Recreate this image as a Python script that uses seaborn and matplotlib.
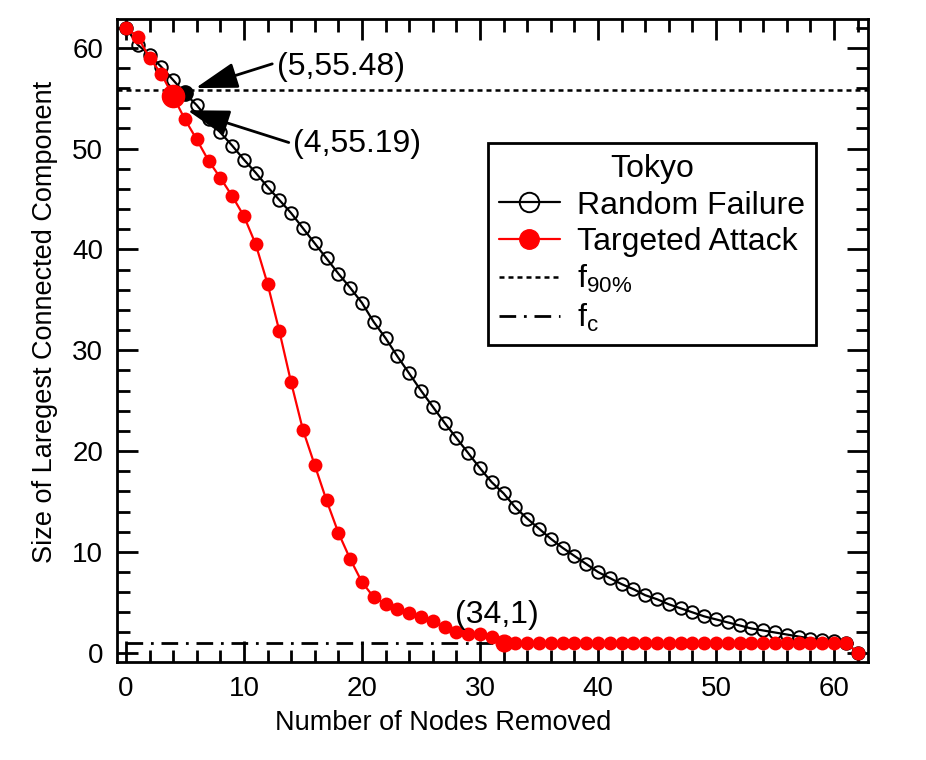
import numpy as np
import pandas as pd
from matplotlib import pyplot as plt
from matplotlib.lines import Line2D
from matplotlib.ticker import MultipleLocator
import seaborn as sns

nodes_removed = list(range(63))
random_failure = [62, 60.3, 59.3, 58.1, 56.8, 55.48, 54.3, 52.9, 51.6, 50.3,
                  48.9, 47.6, 46.2, 44.9, 43.6, 42.1, 40.6, 39.1, 37.6, 36.2,
                  34.7, 32.8, 31.2, 29.4, 27.7, 26.0, 24.4, 22.8, 21.3, 19.8,
                  18.3, 16.9, 15.8, 14.4, 13.3, 12.3, 11.3, 10.4, 9.6, 8.8,
                  8.0, 7.4, 6.8, 6.3, 5.7, 5.3, 4.8, 4.4, 4.0, 3.6,
                  3.3, 3.0, 2.7, 2.4, 2.2, 2.0, 1.8, 1.6, 1.4, 1.3,
                  1.2, 1.0, 0]
targeted_attack = [62, 61.1, 59.0, 57.4, 55.19, 52.9, 50.9, 48.8, 47.1, 45.3,
                   43.3, 40.5, 36.6, 31.9, 26.8, 22.1, 18.6, 15.1, 11.9, 9.3,
                   7.0, 5.5, 4.8, 4.3, 3.9, 3.5, 3.1, 2.5, 2.0, 1.9,
                   1.9, 1.6, 1, 1, 1, 1, 1, 1, 1, 1,
                   1, 1, 1, 1, 1, 1, 1, 1, 1, 1,
                   1, 1, 1, 1, 1, 1, 1, 1, 1, 1,
                   1, 1, 0]
f90 = 55.8
fc = 1

sns.set_style("ticks")
plt.rcParams['font.family'] = ['Liberation Sans', 'DejaVu Sans']
plt.rcParams['mathtext.default'] = 'regular'
for k in ['text.color', 'axes.labelcolor', 'xtick.color', 'ytick.color', 'axes.edgecolor']:
    plt.rcParams[k] = 'black'

fig = plt.figure(figsize=(9.26, 7.6), dpi=100)
ax = fig.add_axes([0.1264, 0.1293, 0.8106, 0.8457])

# f90 dotted line and fc dash-dot line
ax.axhline(f90, color='black', lw=1.8, ls=(0, (2, 1.6)), zorder=1)
ax.plot([0, 62], [fc, fc], color='black', lw=2, ls=(0, (6, 2.8, 1, 2.8)), zorder=1)

sns.lineplot(x=nodes_removed, y=random_failure, ax=ax, color='black', lw=1.6,
             marker='o', markersize=9, markerfacecolor='none',
             markeredgecolor='black', markeredgewidth=1.4, zorder=2)
sns.lineplot(x=nodes_removed, y=targeted_attack, ax=ax, color='red', lw=1.6,
             marker='o', markersize=10, markerfacecolor='red',
             markeredgecolor='red', markeredgewidth=0, zorder=3)

# highlighted points
ax.plot(nodes_removed[5], random_failure[5], 'o', color='black', ms=11, zorder=4)
ax.plot(nodes_removed[4], targeted_attack[4], 'o', color='red', ms=16, zorder=5)
ax.plot(nodes_removed[32], targeted_attack[32], 'o', color='red', ms=12, zorder=5)

arrow = dict(arrowstyle='-|>,head_length=1.3,head_width=0.4', color='black',
             lw=2, mutation_scale=20, shrinkA=0, shrinkB=0)
ax.annotate('', xy=(5.9, 56.0), xytext=(12.4, 58.4), arrowprops=arrow, zorder=6)
ax.annotate('', xy=(5.2, 53.8), xytext=(13.8, 50.6), arrowprops=arrow, zorder=6)
ax.text(12.8, 58.1, '(5,55.48)', fontsize=23, ha='left', va='center')
ax.text(14.15, 50.5, '(4,55.19)', fontsize=23, ha='left', va='center')
ax.text(27.9, 3.7, '(34,1)', fontsize=23, ha='left', va='center')

ax.set_xlim(-0.75, 62.85)
ax.set_ylim(-0.9, 62.85)
ax.xaxis.set_major_locator(MultipleLocator(10))
ax.xaxis.set_minor_locator(MultipleLocator(2))
ax.yaxis.set_major_locator(MultipleLocator(10))
ax.yaxis.set_minor_locator(MultipleLocator(2))
ax.tick_params(which='both', direction='in', top=True, right=True,
               width=2, color='black', labelsize=20, pad=10)
ax.tick_params(which='major', length=15)
ax.tick_params(which='minor', length=9)
for s in ax.spines.values():
    s.set_linewidth(2)
    s.set_color('black')

ax.set_xlabel('Number of Nodes Removed', fontsize=19.5, labelpad=6)
ax.set_ylabel('Size of Laregest Connected Component', fontsize=19.5, labelpad=10)
ax.xaxis.label.set_x(0.434)
ax.yaxis.label.set_y(0.529)

handles = [
    Line2D([], [], color='black', lw=1.6, marker='o', ms=14, mfc='none', mec='black', mew=1.4),
    Line2D([], [], color='red', lw=1.6, marker='o', ms=14, mfc='red', mec='red'),
    Line2D([], [], color='black', lw=1.8, ls=(0, (2, 1.6))),
    Line2D([], [], color='black', lw=2, ls=(0, (6, 2.8, 1, 2.8))),
]
labels = ['Random Failure', 'Targeted Attack', r'f$_{90\%}$', r'f$_c$']
leg = ax.legend(handles, labels, title='Tokyo', loc='upper left',
                bbox_to_anchor=(0.494, 0.807), borderaxespad=0, fontsize=23,
                title_fontsize=23, fancybox=False, framealpha=1,
                edgecolor='black', handlelength=1.9, handletextpad=0.55,
                labelspacing=0.2, borderpad=0.35)
leg.get_frame().set_linewidth(2)

fig.savefig('out.png', dpi=100)
